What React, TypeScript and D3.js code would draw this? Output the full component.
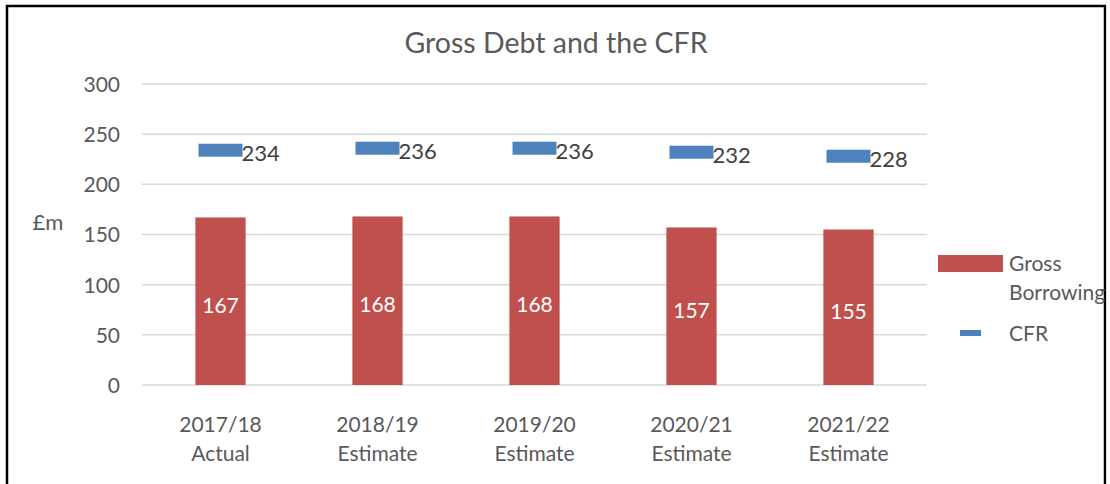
import React from 'react';
import * as d3 from 'd3';

const categories = ['2017/18\nActual', '2018/19\nEstimate', '2019/20\nEstimate', '2020/21\nEstimate', '2021/22\nEstimate'];
const grossBorrowing = [167, 168, 168, 157, 155];
const cfr = [234, 236, 236, 232, 228];
const yTicks = [0, 50, 100, 150, 200, 250, 300];

const W = 1110;
const H = 484;
const FONT = 'Lato, "Open Sans", sans-serif';
const BAR = '#C0504D';
const LINE = '#4F81BD';
const GREY = '#595959';

export default function App() {
  const margin = { top: 84, left: 142, right: 183, bottom: 99 };
  const innerW = W - margin.left - margin.right;
  const innerH = H - margin.top - margin.bottom;

  const x = d3.scaleBand<number>()
    .domain(d3.range(categories.length))
    .range([0, innerW])
    .paddingInner(0.68)
    .paddingOuter(0.34);

  const y = d3.scaleLinear().domain([0, 300]).range([innerH, 0]);

  const markerW = 44;
  const markerH = 13;

  return (
    <svg width={W} height={H} style={{ position: 'absolute', left: 0, top: 0, background: '#fff' }}
      fontFamily={FONT}>
      {/* frame */}
      <path d={`M7,${H} V6 H1105 V${H}`} fill="none" stroke="#000" strokeWidth={2.5} />

      <text x={556} y={53} textAnchor="middle" fontSize={28.5} fill={GREY}>Gross Debt and the CFR</text>

      <text x={48} y={230} textAnchor="middle" fontSize={22} fill={GREY}>£m</text>

      <g transform={`translate(${margin.left},${margin.top})`}>
        {yTicks.map(t => (
          <g key={t}>
            <line x1={0} x2={innerW} y1={y(t)} y2={y(t)} stroke="#D9D9D9" strokeWidth={1.5} />
            <text x={-22} y={y(t)} dy="0.38em" textAnchor="end" fontSize={21} fill={GREY}>{t}</text>
          </g>
        ))}

        {grossBorrowing.map((v, i) => (
          <g key={i}>
            <rect x={x(i)} y={y(v)} width={x.bandwidth()} height={innerH - y(v)} fill={BAR} />
            <text x={x(i)! + x.bandwidth() / 2} y={(y(v) + innerH) / 2 + 4} dy="0.36em" textAnchor="middle"
              fontSize={21} fill="#fff">{v}</text>
          </g>
        ))}

        {cfr.map((v, i) => {
          const cx = x(i)! + x.bandwidth() / 2;
          return (
            <g key={i}>
              <rect x={cx - markerW / 2} y={y(v) - markerH / 2} width={markerW} height={markerH} fill={LINE} />
              <text x={cx + markerW / 2 - 1} y={y(v) + 11} fontSize={22} fill="#404040">{v}</text>
            </g>
          );
        })}

        {categories.map((c, i) => (
          <text key={i} x={x(i)! + x.bandwidth() / 2} textAnchor="middle" fontSize={21} fill={GREY}>
            {c.split('\n').map((line, j) => (
              <tspan key={j} x={x(i)! + x.bandwidth() / 2} y={innerH + 47 + j * 29}>{line}</tspan>
            ))}
          </text>
        ))}
      </g>

      {/* legend */}
      <g fontSize={21} fill={GREY}>
        <rect x={938} y={255} width={65} height={17} fill={BAR} />
        <text x={1009} y={271}>Gross</text>
        <text x={1009} y={300}>Borrowing</text>
        <rect x={960} y={330} width={21} height={6} fill={LINE} />
        <text x={1009} y={341}>CFR</text>
      </g>
      <rect x={1106.5} y={0} width={4} height={H} fill="#fff" />
    </svg>
  );
}
